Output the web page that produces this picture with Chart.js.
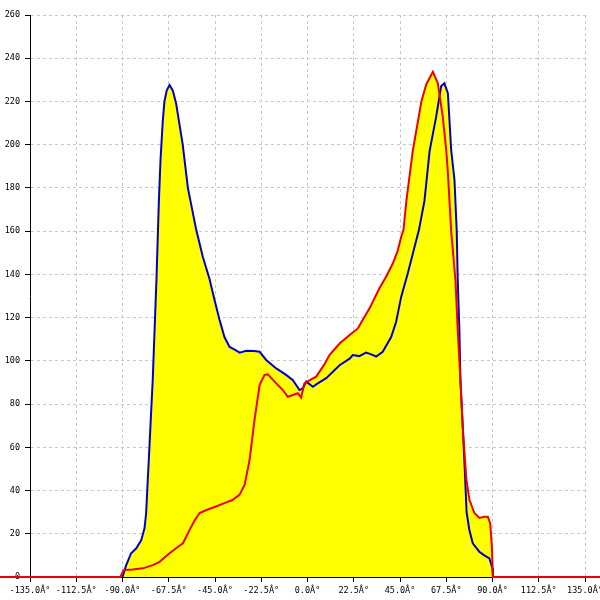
<!DOCTYPE html>
<html>
<head>
  <meta charset="UTF-8" />
  <title>Angular distribution</title>
  <script src="https://cdn.jsdelivr.net/npm/chart.js"></script>
  <style>
    body { margin: 0; background: #fff; }
    .chart-container { position: relative; width: 600px; height: 600px; }
  </style>
</head>
<body>
  <div class="chart-container"><canvas id="chart"></canvas></div>

  <script>
    // blue series (angle in degrees, value)
    const blueAngles = [-90, -88.2, -85.8, -83.3, -80.9, -79.3, -78.5, -77.7, -76.9, -76.1, -75.3, -73.5, -72.3, -71.5, -70.4, -69.6, -68.5, -67.1, -65.5, -63.9, -60.7, -58.2, -54.1, -50.9, -47.7, -45.2, -42.8, -40.4, -37.9, -35, -33, -29.8, -26, -23.3, -20.1, -15.2, -10.4, -7.1, -3.9, -2.3, -0.6, 2.6, 5, 9.1, 15.6, 20.5, 22, 25.2, 28.5, 31, 33.4, 36.6, 40.7, 43.1, 45.6, 48.8, 52.1, 54.2, 56.9, 59.4, 62.6, 65, 66.6, 68.3, 69.9, 71.5, 72.6, 73.1, 73.9, 74.4, 75.6, 76.5, 77.4, 78.7, 80.4, 83.6, 86, 88.5, 90, 90.2];
    const blueValues = [0, 5.5, 11, 13.3, 17, 22.5, 29.5, 45, 60, 75.7, 91, 137, 174, 193, 211, 220, 225, 227.6, 225, 219, 200, 180, 160.5, 148, 138, 128, 119, 111, 106.4, 105, 103.8, 104.7, 104.5, 104.2, 100.4, 96.5, 93.5, 91, 86.5, 87.3, 90.4, 88, 89.6, 92, 98, 101, 102.7, 102.2, 103.8, 103, 102, 104.2, 111, 118, 129.7, 140.5, 152.8, 160.5, 174, 197, 213, 227, 228.4, 223.8, 197.5, 183.7, 160, 137, 114, 91, 68, 50, 30, 22, 15.6, 11.7, 10, 8.6, 4, 0];

    // red series, flat at zero outside the measured range
    const redAngles = [-150, -91, -89.5, -85, -80.1, -75.3, -72, -67.1, -63.9, -60.6, -57.4, -55, -52.5, -49.1, -45.2, -40.4, -36.5, -33.1, -30.6, -28.2, -25.8, -23.3, -20.9, -19.3, -15.2, -12, -9.6, -7.1, -4.7, -3.1, -1.5, 0.9, 4.2, 8, 10.7, 15.6, 20.5, 24.5, 26.9, 30.2, 35, 38.3, 41.5, 43.9, 45.6, 46.7, 48.1, 51.2, 55.4, 57.8, 61, 63.4, 65.8, 67.5, 68.3, 69.9, 72, 73.1, 74.4, 75.6, 77.3, 78.8, 81.2, 83.6, 86.1, 87.7, 88.9, 89.7, 90.2, 150];
    const redValues = [0, 0, 3.2, 3.5, 4, 5.5, 7, 11, 13.3, 15.6, 21.7, 26, 29.6, 31, 32.4, 34.2, 35.6, 38, 42.6, 54, 72.6, 88.8, 93.5, 93.8, 89.6, 86.5, 83.4, 84.2, 85, 83, 89.6, 91, 92.7, 98, 102.7, 108, 112, 115, 119, 124.3, 133.6, 139, 145, 151, 157.4, 160.5, 174, 197, 220, 228, 233.7, 228.4, 213, 197.4, 187, 160, 137, 114, 91, 68, 45, 35.6, 29.6, 27.3, 27.9, 27.9, 24.8, 14, 0, 0];

    const xMin = -135, xMax = 135, xStep = 22.5;
    const yMin = 0, yMax = 260, yStep = 20;

    const toPoints = (xs, ys) => xs.map((x, i) => ({ x: x, y: ys[i] }));

    const tickFont = { family: 'DejaVu Sans Mono', size: 8.5 };

    new Chart(document.getElementById('chart'), {
      type: 'line',
      data: {
        datasets: [
          {
            data: toPoints(redAngles, redValues),
            borderColor: '#ee0000',
            backgroundColor: '#ffff00',
            borderWidth: 2,
            pointRadius: 0,
            fill: 'origin',
            tension: 0,
            clip: false
          },
          {
            data: toPoints(blueAngles, blueValues),
            borderColor: '#0000cc',
            backgroundColor: '#ffff00',
            borderWidth: 2,
            pointRadius: 0,
            fill: 'origin',
            tension: 0
          }
        ]
      },
      options: {
        responsive: true,
        maintainAspectRatio: false,
        animation: false,
        layout: { padding: { top: 15, right: 15, left: 0, bottom: 0 } },
        plugins: {
          legend: { display: false },
          tooltip: { enabled: false },
          filler: { drawTime: 'beforeDatasetsDraw' }
        },
        scales: {
          x: {
            type: 'linear',
            min: xMin,
            max: xMax,
            ticks: {
              stepSize: xStep,
              autoSkip: false,
              maxRotation: 0,
              minRotation: 0,
              padding: 4,
              color: '#000',
              font: tickFont,
              callback: v => v.toFixed(1) + 'Â°'
            },
            grid: { color: '#c8c8c8', tickColor: '#000', tickLength: 5 },
            border: { color: '#000', width: 1, dash: [3, 3] },
            afterFit: s => { s.height = 23; s.paddingLeft = 0; s.paddingRight = 0; }
          },
          y: {
            min: yMin,
            max: yMax,
            ticks: {
              stepSize: yStep,
              padding: 5,
              color: '#000',
              font: tickFont
            },
            grid: { color: '#c8c8c8', tickColor: '#000', tickLength: 5 },
            border: { color: '#000', width: 1, dash: [3, 3] },
            afterFit: s => { s.width = 30; s.paddingTop = 0; s.paddingBottom = 0; }
          }
        }
      }
    });
  </script>
</body>
</html>
